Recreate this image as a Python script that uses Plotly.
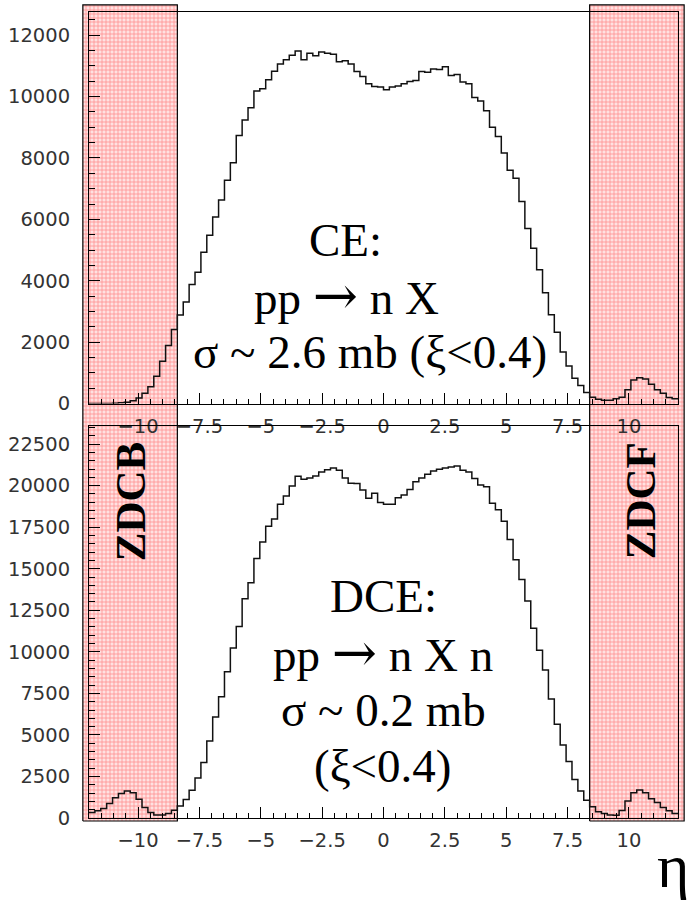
import numpy as np
import plotly.graph_objects as go

# ---- histogram data: 100 bins in eta from -12 to 12 ----
eta_lo, eta_hi, n_bins = -12.0, 12.0, 100
eta_edges = np.linspace(eta_lo, eta_hi, n_bins + 1)

ce_counts = [
    0, 0, 0, 5, 12, 25, 45, 90, 180, 340,
    550, 890, 1380, 1890, 2410, 2884, 3311, 3880, 4276, 4930,
    5487, 6076, 6634, 7277, 7845, 8734, 9238, 9634, 10181, 10256,
    10545, 10824, 11060, 11199, 11349, 11488, 11199, 11413, 11328, 11456,
    11413, 11381, 11135, 11167, 11060, 10813, 10653, 10417, 10331, 10310,
    10224, 10310, 10342, 10417, 10492, 10524, 10813, 10792, 10899, 10878,
    10974, 10685, 10717, 10471, 10417, 9967, 9860, 9538, 9002, 8702,
    8166, 7598, 7341, 6580, 5701, 5058, 4362, 3611, 2894, 2325,
    1683, 1222, 825, 590, 364, 204, 140, 110, 110, 160,
    210, 450, 770, 840, 800, 630, 450, 340, 200, 160,
]

dce_counts = [
    337, 435, 574, 871, 1227, 1485, 1623, 1524, 1128, 633,
    337, 178, 178, 277, 475, 732, 1110, 1680, 2415, 3345,
    4632, 6076, 7304, 8808, 10233, 11520, 13202, 14152, 15617, 16607,
    17557, 17992, 18883, 19377, 19971, 20565, 20387, 20466, 20585, 20823,
    20961, 21060, 20922, 20466, 20150, 20130, 19734, 19239, 19536, 18982,
    18883, 18883, 19278, 19436, 19773, 20229, 20466, 20684, 20882, 20981,
    21060, 21120, 21179, 20922, 20823, 20427, 20031, 19932, 18942, 18546,
    17853, 16765, 15538, 14350, 13064, 11421, 10095, 8907, 7165, 5641,
    4394, 3404, 2316, 1623, 1069, 673, 380, 270, 190, 170,
    450, 1029, 1524, 1682, 1524, 1168, 930, 633, 435, 277,
]

# ZDC acceptance bands (|eta| ranges)
zdcb_eta = (-12.25, -8.4)
zdcf_eta = (8.4, 12.25)

ce_yticks = [0, 2000, 4000, 6000, 8000, 10000, 12000]
dce_yticks = [0, 2500, 5000, 7500, 10000, 12500, 15000, 17500, 20000, 22500]
eta_ticks = [-10, -7.5, -5, -2.5, 0, 2.5, 5, 7.5, 10]
eta_ticktext = ["\u221210", "\u22127.5", "\u22125", "\u22122.5", "0", "2.5", "5", "7.5", "10"]

# ---- page geometry ----
W, H = 691, 909
px_left, px_right = 89, 678
top_px = (12, 409)
bot_px = (432, 829)


def xfrac(px):
    return px / W


def yfrac(py):
    return 1 - py / H


x_dom = [xfrac(px_left), xfrac(px_right)]
top_dom = [yfrac(top_px[1]), yfrac(top_px[0])]
bot_dom = [yfrac(bot_px[1]), yfrac(bot_px[0])]

# overlay axis spanning the full page, with the same eta scale as the panels
ppu = (px_right - px_left) / (eta_hi - eta_lo)
ov_range = [eta_lo - px_left / ppu, eta_hi + (W - px_right) / ppu]
band_y = (yfrac(832), yfrac(5))

fig = go.Figure()

# ZDC bands (drawn first so they sit underneath the histograms)
for lo, hi in (zdcb_eta, zdcf_eta):
    fig.add_trace(go.Scatter(
        x=[lo, hi, hi, lo, lo],
        y=[band_y[0], band_y[0], band_y[1], band_y[1], band_y[0]],
        mode="lines", fill="toself",
        fillcolor="rgba(255,150,150,0.55)",
        fillpattern=dict(shape="+", fgcolor="rgba(255,40,40,0.9)",
                         bgcolor="rgba(255,225,225,1)", size=4, solidity=0.35),
        line=dict(color="black", width=1.2),
        xaxis="x", yaxis="y", hoverinfo="skip", showlegend=False,
    ))


def step_xy(counts):
    ys = list(counts) + [counts[-1]]
    return eta_edges, ys


for counts, xa, ya in ((ce_counts, "x2", "y2"), (dce_counts, "x3", "y3")):
    sx, sy = step_xy(counts)
    fig.add_trace(go.Scatter(
        x=sx, y=sy, mode="lines", line=dict(shape="hv", color="#111", width=1.5),
        xaxis=xa, yaxis=ya, hoverinfo="skip", showlegend=False,
    ))

tick_font = dict(family="DejaVu Sans", size=19.5, color="#333")

xcommon = dict(
    domain=x_dom, range=[eta_lo, eta_hi], showgrid=False, zeroline=False,
    showline=True, linecolor="black", linewidth=1, mirror=True,
    ticks="inside", ticklen=11, tickcolor="black", tickwidth=1,
    tickvals=eta_ticks, ticktext=eta_ticktext, tickfont=tick_font,
    minor=dict(dtick=0.5, tick0=0, ticks="inside", ticklen=5, tickcolor="black"),
    ticklabelstandoff=5,
)
ycommon = dict(
    showgrid=False, zeroline=False,
    showline=True, linecolor="black", linewidth=1, mirror=True,
    ticks="inside", ticklen=11, tickcolor="black", tickwidth=1,
    tickfont=tick_font, ticklabelstandoff=14, tickformat="d",
    minor=dict(dtick=500, tick0=0, ticks="inside", ticklen=6, tickcolor="black"),
)

fig.update_layout(
    width=W, height=H, autosize=False,
    margin=dict(l=0, r=0, t=0, b=0),
    paper_bgcolor="white", plot_bgcolor="rgba(0,0,0,0)",
    xaxis=dict(domain=[0, 1], range=ov_range, visible=False, anchor="y"),
    yaxis=dict(domain=[0, 1], range=[0, 1], visible=False, anchor="x"),
    xaxis2=dict(anchor="y2", **xcommon),
    yaxis2=dict(anchor="x2", domain=top_dom, range=[0, 12760],
                tickvals=ce_yticks, **ycommon),
    xaxis3=dict(anchor="y3", **xcommon),
    yaxis3=dict(anchor="x3", domain=bot_dom, range=[0, 23570],
                tickvals=dce_yticks, **ycommon),
)

serif = "Liberation Serif"
arrow = "<span style='font-family:DejaVu Serif;font-size:54px'>\u2192</span>"
texts = [
    ("CE:", 345, 243, 47, 0),
    (f"pp {arrow} n X", 346, 299, 47, 0),
    ("\u03c3 ~ 2.6 mb (\u03be&lt;0.4)", 370, 357, 47, 0),
    ("DCE:", 383, 604, 47, 0),
    (f"pp {arrow} n X n", 383, 661, 47, 0),
    ("\u03c3 ~ 0.2 mb", 383, 719, 47, 0),
    ("(\u03be&lt;0.4)", 383, 776, 47, 0),
    ("<b>ZDCB</b>", 130, 509, 43, -90),
    ("<b>ZDCF</b>", 640, 508, 43, -90),
    ("\u03b7", 673, 878, 62, 0),
]
for txt, px, py, size, ang in texts:
    fig.add_annotation(
        text=txt, x=xfrac(px), y=yfrac(py), xref="paper", yref="paper",
        xanchor="center", yanchor="middle", showarrow=False, textangle=ang,
        font=dict(family=serif, size=size, color="black"),
    )

fig.write_html("out.html")
